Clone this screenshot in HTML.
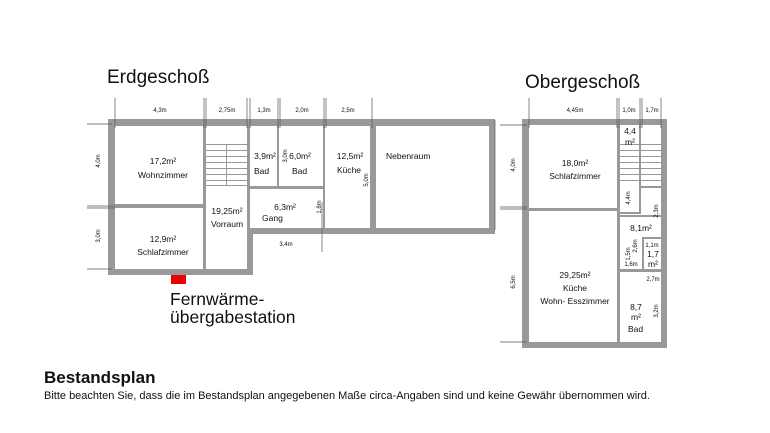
<!DOCTYPE html>
<html><head><meta charset="utf-8"><style>
html,body{margin:0;padding:0;background:#fff;width:770px;height:433px;overflow:hidden}
svg{display:block}
text{font-family:"Liberation Sans",sans-serif;fill:#111}
</style></head><body>
<svg width="770" height="433" viewBox="0 0 770 433">
<g fill="#999">
<rect x="108" y="119" width="387" height="7"/>
<rect x="108" y="119" width="7" height="156"/>
<rect x="108" y="269" width="145" height="6"/>
<rect x="489" y="119" width="6" height="115"/>
<rect x="247" y="228" width="248" height="6"/>
<rect x="247" y="228" width="6" height="47"/>
<rect x="115" y="204" width="90" height="4"/>
<rect x="203" y="126" width="3" height="143"/>
<rect x="247" y="126" width="3" height="102"/>
<rect x="277" y="126" width="2" height="62"/>
<rect x="250" y="186" width="75" height="3"/>
<rect x="323" y="126" width="2" height="102"/>
<rect x="370" y="119" width="6" height="115"/>
<rect x="522" y="119" width="145" height="6"/>
<rect x="522" y="119" width="7" height="229"/>
<rect x="522" y="342" width="145" height="6"/>
<rect x="661" y="119" width="6" height="229"/>
<rect x="529" y="208" width="89" height="3"/>
<rect x="617" y="125" width="3" height="217"/>
<rect x="639" y="125" width="2" height="89"/>
<rect x="640" y="186" width="21" height="2"/>
<rect x="620" y="212" width="21" height="2"/>
<rect x="620" y="215" width="41" height="2"/>
<rect x="620" y="269" width="41" height="3"/>
<rect x="642" y="237" width="19" height="2"/>
<rect x="642" y="237" width="2" height="32"/>
</g>
<g stroke="#999" stroke-width="1" fill="none">
<path d="M206 144.5H247M206 150.5H247M206 156.5H247M206 162.5H247M206 168.5H247M206 174.5H247M206 180.5H247M206 185.5H247M226.5 144V186"/>
<path d="M620 144.5H661M620 150.5H661M620 156.5H661M620 162.5H661M620 168.5H661M620 174.5H661M620 180.5H661M640 144V186"/>
</g>
<g stroke="#555" stroke-width="0.7" fill="none">
<path d="M115 98V128M204 98V128M206 98V128M247 98V128M250 98V128M278 98V128M280 98V128M324 98V128M326 98V128M372 98V128"/>
<path d="M87 124H112M87 206H115M87 208H115M87 269H112M322 202V252"/>
<path d="M529 98V128M617 98V128M619 98V128M640 98V128M642 98V128M661 98V128"/>
<path d="M500 125H527M500 207H527M500 209H527M500 342H527M495 120V230"/>
</g>
<rect x="171" y="275" width="15" height="9" fill="#e00"/>
<g font-size="6" text-anchor="middle" fill="#333">
<text x="160" y="112">4,3m</text><text x="227" y="112">2,75m</text><text x="264" y="112">1,3m</text>
<text x="302" y="112">2,0m</text><text x="348" y="112">2,5m</text><text x="286" y="246">3,4m</text>
<text x="575" y="112">4,45m</text><text x="629" y="112">1,0m</text><text x="652" y="112">1,7m</text>
<text x="653" y="281">2,7m</text><text x="631" y="266">1,6m</text><text x="652" y="247">1,1m</text>
</g>
<g font-size="6" text-anchor="middle" fill="#333">
<text transform="translate(100,161) rotate(-90)">4,0m</text>
<text transform="translate(100,236) rotate(-90)">3,0m</text>
<text transform="translate(287,156) rotate(-90)">3,0m</text>
<text transform="translate(368,180) rotate(-90)">5,0m</text>
<text transform="translate(321,207) rotate(-90)">1,8m</text>
<text transform="translate(515,165) rotate(-90)">4,0m</text>
<text transform="translate(515,282) rotate(-90)">6,5m</text>
<text transform="translate(630,198) rotate(-90)">4,4m</text>
<text transform="translate(658,211) rotate(-90)">2,3m</text>
<text transform="translate(637,246) rotate(-90)">2,6m</text>
<text transform="translate(630,254) rotate(-90)">1,5m</text>
<text transform="translate(658,311) rotate(-90)">3,2m</text>
</g>
<g font-size="8.5" text-anchor="middle">
<text x="163" y="164">17,2m²</text><text x="163" y="178">Wohnzimmer</text>
<text x="163" y="242">12,9m²</text><text x="163" y="255">Schlafzimmer</text>
<text x="227" y="214">19,25m²</text><text x="227" y="227">Vorraum</text>
<text x="265" y="159">3,9m²</text><text x="300" y="159">6,0m²</text>
<text x="350" y="159">12,5m²</text><text x="349" y="173">Küche</text>
<text x="285" y="210">6,3m²</text>
<text x="575" y="166">18,0m²</text><text x="575" y="179">Schlafzimmer</text>
<text x="575" y="278">29,25m²</text><text x="575" y="291">Küche</text><text x="575" y="304">Wohn- Esszimmer</text>
<text x="630" y="134">4,4</text><text x="630" y="145">m²</text>
<text x="641" y="231">8,1m²</text>
<text x="653" y="257">1,7</text><text x="653" y="267">m²</text>
<text x="636" y="310">8,7</text><text x="636" y="320">m²</text>
</g>
<g font-size="8.5">
<text x="254" y="174">Bad</text><text x="292" y="174">Bad</text>
<text x="262" y="221">Gang</text><text x="386" y="159">Nebenraum</text>
<text x="628" y="332">Bad</text>
</g>
<text x="107" y="83" font-size="19">Erdgeschoß</text>
<text x="525" y="88" font-size="19">Obergeschoß</text>
<text x="170" y="305" font-size="17.5">Fernwärme-</text>
<text x="170" y="323" font-size="17.5">übergabestation</text>
<text x="44" y="383" font-size="17" font-weight="bold">Bestandsplan</text>
<text x="44" y="399" font-size="11">Bitte beachten Sie, dass die im Bestandsplan angegebenen Maße circa-Angaben sind und keine Gewähr übernommen wird.</text>
</svg>
</body></html>
